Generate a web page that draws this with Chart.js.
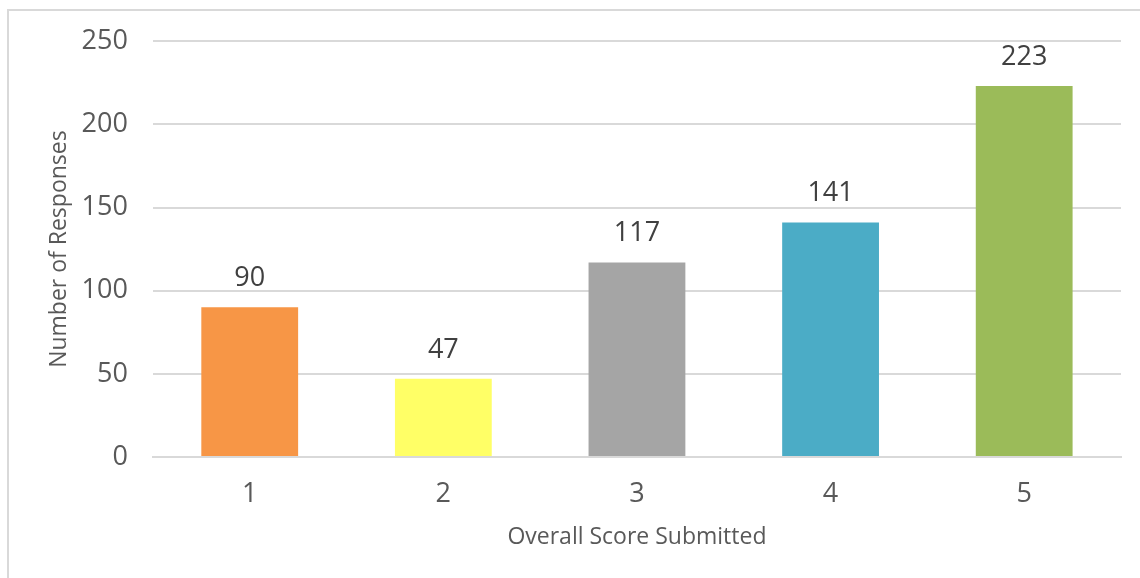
<!DOCTYPE html>
<html>
<head>
<meta charset="utf-8">
<script src="https://cdn.jsdelivr.net/npm/chart.js@4/dist/chart.umd.min.js"></script>
<style>
  html, body { margin: 0; padding: 0; background: #fff; }
  #wrap { position: relative; width: 1140px; height: 578px; overflow: hidden; }
  #frame {
    position: absolute; left: 7px; top: 9px; width: 1200px; height: 600px;
    border-left: 2px solid #d9d9d9; border-top: 2px solid #d9d9d9;
    box-sizing: border-box;
  }
  #box { position: absolute; left: 0; top: 0; width: 1140px; height: 578px; }
</style>
</head>
<body>
<div id="wrap">
  <div id="frame"></div>
  <div id="box"><canvas id="chart"></canvas></div>
</div>
<script>
// chart data
const scores = ["1", "2", "3", "4", "5"];
const responses = [90, 47, 117, 141, 223];
const barColors = ["#F79646", "#FFFF66", "#A5A5A5", "#4BACC6", "#9BBB59"];
const yTicks = [0, 50, 100, 150, 200, 250];

const FONT = "'Open Sans', sans-serif";

// value labels above each bar
const barLabels = {
  id: "barLabels",
  afterDatasetsDraw(chart) {
    const ctx = chart.ctx;
    const meta = chart.getDatasetMeta(0);
    ctx.save();
    ctx.font = "27px " + FONT;
    ctx.fillStyle = "#404040";
    ctx.textAlign = "center";
    ctx.textBaseline = "middle";
    meta.data.forEach((bar, i) => {
      ctx.fillText(String(responses[i]), bar.x, bar.y - 29);
    });
    ctx.restore();
  }
};

new Chart(document.getElementById("chart"), {
  type: "bar",
  data: {
    labels: scores,
    datasets: [{
      data: responses,
      backgroundColor: barColors,
      barPercentage: 0.5,
      categoryPercentage: 1.0
    }]
  },
  options: {
    responsive: true,
    maintainAspectRatio: false,
    animation: false,
    layout: { padding: { left: 46, right: 19, top: 20, bottom: 27 } },
    plugins: {
      legend: { display: false },
      tooltip: { enabled: false }
    },
    scales: {
      x: {
        grid: { display: false, drawTicks: false },
        border: { display: true, color: "#d9d9d9", width: 2 },
        ticks: { color: "#595959", font: { family: FONT, size: 27 }, padding: 21 },
        title: {
          display: true, text: "Overall Score Submitted", color: "#595959",
          font: { family: FONT, size: 23 }, padding: { top: -8, bottom: 0 }
        }
      },
      y: {
        min: 0, max: 250,
        afterBuildTicks(axis) { axis.ticks = yTicks.map(v => ({ value: v })); },
        grid: { color: "#d9d9d9", lineWidth: 2, drawTicks: false },
        border: { display: false },
        ticks: { color: "#595959", font: { family: FONT, size: 27 }, padding: 25 },
        title: {
          display: true, text: "Number of Responses", color: "#595959",
          font: { family: FONT, size: 23 }, padding: { top: 0, bottom: -17 }
        }
      }
    }
  },
  plugins: [barLabels]
});
</script>
</body>
</html>
